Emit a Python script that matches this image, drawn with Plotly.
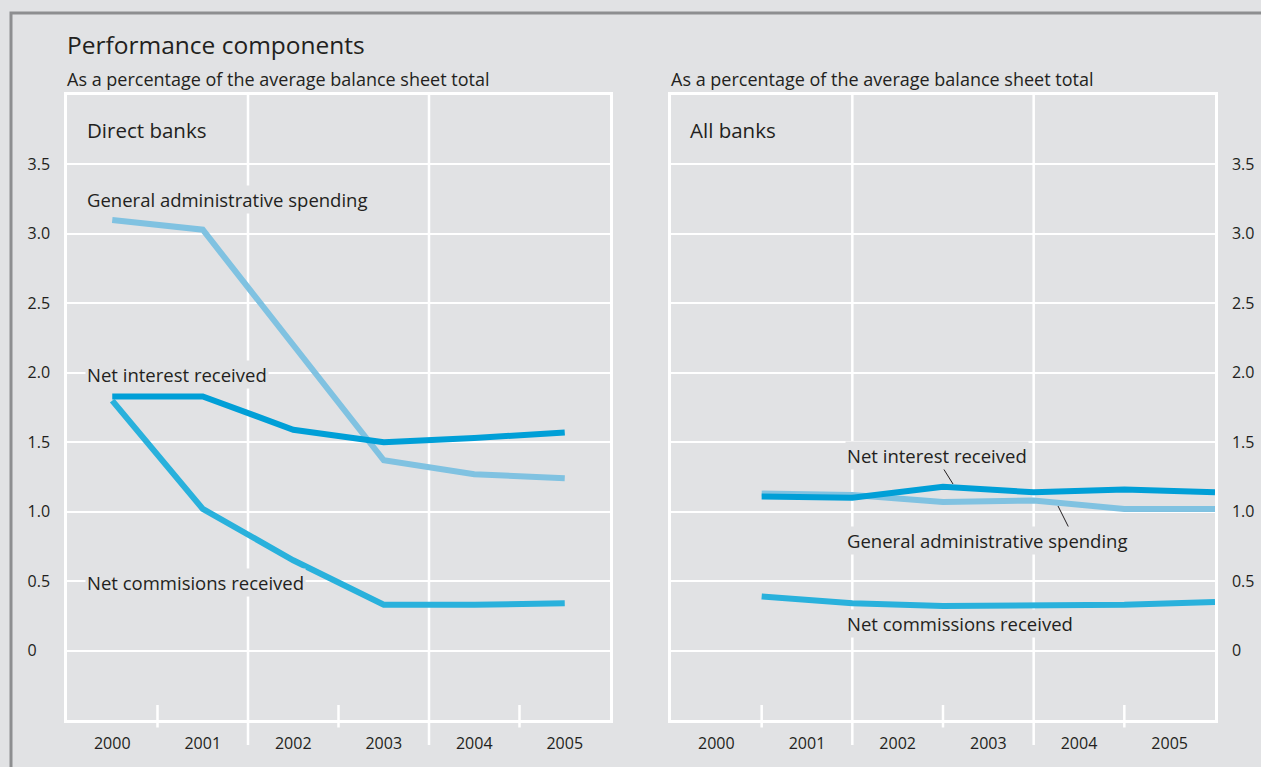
import plotly.graph_objects as go

# ---------------- data ----------------
years = [2000, 2001, 2002, 2003, 2004, 2005]
year_labels = [str(y) for y in years]

# Direct banks (% of average balance sheet total)
direct_admin = [3.10, 3.03, 2.20, 1.37, 1.27, 1.24]
direct_interest = [1.83, 1.83, 1.59, 1.50, 1.53, 1.57]
direct_commissions = [1.80, 1.02, 0.65, 0.33, 0.33, 0.34]

# All banks
all_admin = [1.13, 1.12, 1.07, 1.08, 1.02, 1.02]
all_interest = [1.11, 1.10, 1.18, 1.14, 1.16, 1.14]
all_commissions = [0.39, 0.34, 0.32, 0.32, 0.33, 0.35]

y_ticks = [0, 0.5, 1.0, 1.5, 2.0, 2.5, 3.0, 3.5]
y_tick_labels = ["0\u2008\u2007", "0.5", "1.0", "1.5", "2.0", "2.5", "3.0", "3.5"]
y_tick_labels_right = ["0", "0.5", "1.0", "1.5", "2.0", "2.5", "3.0", "3.5"]

# ---------------- style ----------------
W, H = 1261, 767
BG = "#e1e2e4"
TXT = "#231f20"
C_ADMIN = "#80c2e1"
C_INTEREST = "#009fd7"
C_COMM = "#29b1dc"
FONT = "Open Sans"
LW = 6


def px(x):
    return x / W


def py(y):
    return 1 - y / H


left_dom = [px(67), px(610)]
right_dom = [px(671), px(1215)]
y_dom = [py(720), py(95)]

fig = go.Figure()

right_x = [y + 0.5 for y in years]

series = [
    ("x", "y", years, direct_admin, C_ADMIN),
    ("x", "y", years, direct_interest, C_INTEREST),
    ("x", "y", years, direct_commissions, C_COMM),
    ("x2", "y2", right_x, all_admin, C_ADMIN),
    ("x2", "y2", right_x, all_commissions, C_COMM),
    ("x2", "y2", right_x, all_interest, C_INTEREST),
]
for xa, ya, xs, ys, col in series:
    fig.add_trace(go.Scatter(x=xs, y=ys, xaxis=xa, yaxis=ya, mode="lines",
                             line=dict(color=col, width=LW),
                             hoverinfo="skip", showlegend=False))

x_range = [years[0] - 0.5, years[-1] + 0.5]

common_x = dict(range=x_range, tickvals=years, ticktext=year_labels,
                showgrid=False, zeroline=False, showline=True, mirror=True,
                linecolor="white", linewidth=2.5, ticks="",
                tickfont=dict(family=FONT, size=16, color=TXT),
                ticklabelstandoff=7, fixedrange=True)
common_y = dict(range=[-0.5, 4.0], tickvals=y_ticks,
                showgrid=True, gridcolor="white", gridwidth=2,
                zeroline=False, showline=True, mirror=True,
                linecolor="white", linewidth=2.5, ticks="",
                tickfont=dict(family=FONT, size=16, color=TXT),
                ticklabelstandoff=11, fixedrange=True)

fig.update_layout(
    width=W, height=H,
    margin=dict(l=0, r=0, t=0, b=0),
    paper_bgcolor=BG, plot_bgcolor="rgba(0,0,0,0)",
    showlegend=False,
    xaxis=dict(domain=left_dom, anchor="y", **common_x),
    yaxis=dict(domain=y_dom, anchor="x", ticktext=y_tick_labels, side="left", **common_y),
    xaxis2=dict(domain=right_dom, anchor="y2", **common_x),
    yaxis2=dict(domain=y_dom, anchor="x2", ticktext=y_tick_labels_right, side="right", **common_y),
)

# vertical grid lines (every second year boundary) and short ticks
shapes = []
for xa in ["x", "x2"]:
    for i in range(1, len(years)):
        b = years[0] - 0.5 + i
        if i % 2 == 0:
            y0, y1 = -0.04, 1
        else:
            y0, y1 = -0.012, 0.024
        shapes.append(dict(type="line", xref=xa, yref=("y" if xa == "x" else "y2") + " domain",
                           x0=b, x1=b, y0=y0, y1=y1, layer="below",
                           line=dict(color="white", width=2.5)))

# outer frame
shapes.append(dict(type="rect", xref="paper", yref="paper",
                   x0=px(11), x1=1.05, y0=-0.05, y1=py(13),
                   line=dict(color="#8d8e90", width=3), fillcolor="rgba(0,0,0,0)",
                   layer="below"))

# leader lines (right panel)
shapes.append(dict(type="line", xref="paper", yref="paper",
                   x0=px(943), y0=py(468), x1=px(953), y1=py(484),
                   line=dict(color=TXT, width=1)))
shapes.append(dict(type="line", xref="paper", yref="paper",
                   x0=px(1058), y0=py(506), x1=px(1070), y1=py(530),
                   line=dict(color=TXT, width=1)))
fig.update_layout(shapes=shapes)


def label(text, x, y, size, bg=None):
    fig.add_annotation(text=text, xref="paper", yref="paper",
                       x=px(x), y=py(y), xanchor="left", yanchor="middle",
                       showarrow=False, bgcolor=bg, borderpad=1,
                       font=dict(family=FONT, size=size, color=TXT))


label("Performance components", 65, 44, 24.5)
label("As a percentage of the average balance sheet total", 65, 79, 18)
label("As a percentage of the average balance sheet total", 669, 79, 18)
label("Direct banks", 85, 130, 20.5)
label("All banks", 688, 130, 20.5)

label("General administrative spending", 85, 199, 18.5, BG)
label("Net interest received", 85, 374, 18.5, BG)
label("Net commisions received", 85, 582, 18.5, BG)

label("Net interest received", 845, 456, 18.5, BG)
label("General administrative spending", 845, 540, 18.5, BG)
label("Net commissions received", 845, 623, 18.5, BG)

fig.write_html("out.html")
